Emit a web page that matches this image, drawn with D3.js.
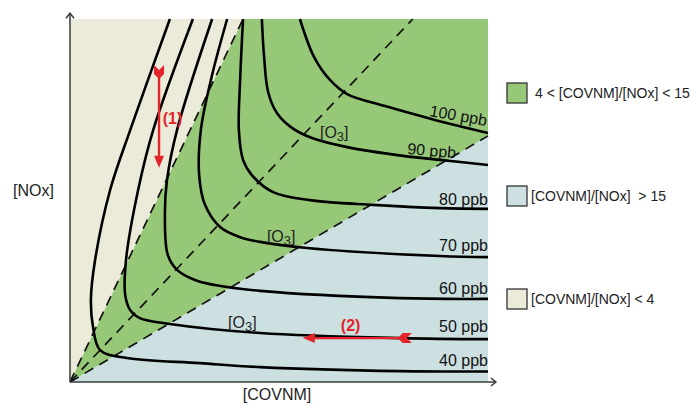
<!DOCTYPE html>
<html><head><meta charset="utf-8">
<script src="https://cdn.jsdelivr.net/npm/d3@7"></script>
<style>
html,body{margin:0;padding:0;background:#fff;}
svg text{font-family:"Liberation Sans",Arial,Helvetica,sans-serif;white-space:pre;}
</style></head>
<body>
<svg id="chart" width="691" height="406"></svg>
<script>
// ---- data (normalised units: [COVNM] 0-100, [NOx] 0-100) ----
const isoLevels = ["40 ppb","50 ppb","60 ppb","70 ppb","80 ppb","90 ppb","100 ppb"];
const iso40  = [[23.9,100],[14.4,69.4],[9.6,52.9],[6.0,33.6],[5.0,22.6],[5.5,15.2],[7.2,8.8],[13.6,6.6],[31.1,5.2],[45.5,4.1],[78.9,3.0],[100,2.9]];
const iso50  = [[29.4,100],[19.9,69.4],[16.3,52.9],[13.4,33.6],[13.2,24.0],[14.4,19.8],[16.7,17.6],[23.9,16.0],[45.5,13.5],[78.9,12.1],[100,11.8]];
const iso60  = [[34.0,100],[25.6,69.4],[23.2,55.6],[22.7,46.0],[23.4,35.0],[25.6,30.9],[29.9,28.1],[34.7,26.7],[45.5,25.1],[78.9,23.1],[100,22.9]];
const iso70  = [[37.6,100],[34.0,84.6],[31.3,69.4],[30.9,57.0],[32.3,48.8],[35.9,42.7],[40.7,39.9],[45.5,38.6],[56.7,36.9],[88.5,34.7],[100,34.4]];
const iso80  = [[41.4,100],[40.7,83.2],[40.4,69.4],[41.4,61.2],[43.5,57.0],[48.6,52.3],[57.4,50.1],[72.5,48.8],[88.5,47.9],[100,47.7]];
const iso90  = [[45.9,100],[46.4,90.1],[47.4,79.9],[49.5,74.1],[53.1,70.0],[57.9,67.2],[66.3,64.7],[79.7,62.3],[88.5,61.2],[100,59.8]];
const iso100 = [[55.0,100],[58.4,89.5],[62.2,83.2],[66.3,79.3],[75.4,76.0],[87.3,72.2],[100,68.6]];
const isoCurves = [iso40, iso50, iso60, iso70, iso80, iso90, iso100];
// label anchor [x, y, rotation, anchor]
const isoLabelPos = [[100,4.4,0,"end"],[100,13.8,0,"end"],[100,24.2,0,"end"],[100,36.1,0,"end"],[100,48.8,0,"end"],[80.6,62.8,5,"start"],[85.9,73.3,10,"start"]];
// regime boundaries (ratio lines from origin)
const ratioLow  = [[0,0],[41.4,100]];   // ratio = 4
const ratioMid  = [[0,0],[82.0,100]];
const ratioHigh = [[0,0],[100,67.8]];   // ratio = 15
const o3Labels = [[59.8,67.2],[47.1,38.6],[37.8,14.9]];
const arrow1 = {x:21.3, from:86.8, to:59.0, label:"(1)", lx:22.2, ly:71.1};
const arrow2 = {y:12.1, from:81.3, to:55.7, label:"(2)", lx:64.8, ly:14.0};
const legendItems = ["4 < [COVNM]/[NOx] < 15","[COVNM]/[NOx]  > 15","[COVNM]/[NOx] < 4"];
const colGreen = "#96c878", colBlue = "#cce0e2", colBeige = "#ecebd9";
const legendColors = [colGreen, colBlue, colBeige];

const svg = d3.select("#chart");
const x = d3.scaleLinear().domain([0,100]).range([70,488]);
const y = d3.scaleLinear().domain([0,100]).range([382,19]);
const poly = pts => "M" + pts.map(p => x(p[0]) + "," + y(p[1])).join("L") + "Z";

// regions
svg.append("path").attr("d", poly([[0,0],[ratioHigh[1][0],ratioHigh[1][1]],[100,0]])).attr("fill", colBlue);
svg.append("path").attr("d", poly([[0,0],ratioLow[1],[100,100],ratioHigh[1]])).attr("fill", colGreen);
svg.append("path").attr("d", poly([[0,0],[0,100],ratioLow[1]])).attr("fill", colBeige);

// dashed ratio lines
const line = d3.line().x(d => x(d[0])).y(d => y(d[1]));
[ratioLow, ratioMid, ratioHigh].forEach(l => {
  svg.append("path").attr("d", line(l)).attr("fill","none").attr("stroke","#111")
    .attr("stroke-width",1.7).attr("stroke-dasharray","10,7");
});

// isopleths
const curve = d3.line().x(d => x(d[0])).y(d => y(d[1])).curve(d3.curveCatmullRom.alpha(0.5));
isoCurves.forEach(c => {
  svg.append("path").attr("d", curve(c)).attr("fill","none").attr("stroke","#000").attr("stroke-width",2.6);
});
isoLevels.forEach((t,i) => {
  const p = isoLabelPos[i];
  svg.append("text").attr("transform", `translate(${x(p[0])},${y(p[1])}) rotate(${p[2]})`)
    .attr("text-anchor", p[3]).attr("font-size",16).attr("fill","#111").text(t);
});
o3Labels.forEach(p => {
  const t = svg.append("text").attr("x", x(p[0])).attr("y", y(p[1])).attr("font-size",16).attr("fill","#222");
  t.append("tspan").text("[O");
  t.append("tspan").attr("font-size",13).attr("dy",3).text("3");
  t.append("tspan").attr("dy",-3).text("]");
});

// red arrows
const red = "#e3242b";
function fletchV(cx, cy){ // downward arrow tail at top
  return `M${cx-5},${cy-2}L${cx},${cy+3}L${cx+5},${cy-2}L${cx+5},${cy+7}L${cx},${cy+12}L${cx-5},${cy+7}Z`;
}
{
  const ax = x(arrow1.x), y0 = y(arrow1.from), y1 = y(arrow1.to);
  svg.append("line").attr("x1",ax).attr("x2",ax).attr("y1",y0+4).attr("y2",y1-10).attr("stroke",red).attr("stroke-width",2.4);
  svg.append("path").attr("d", fletchV(ax, y0)).attr("fill", red);
  svg.append("path").attr("d", `M${ax-5},${y1-12}L${ax+5},${y1-12}L${ax},${y1}Z`).attr("fill", red);
  svg.append("text").attr("x", x(arrow1.lx)).attr("y", y(arrow1.ly)).attr("font-size",16).attr("font-weight","bold").attr("fill",red).text(arrow1.label);
}
{
  const ay = y(arrow2.y), x0 = x(arrow2.from), x1 = x(arrow2.to);
  svg.append("line").attr("x1",x0-4).attr("x2",x1+10).attr("y1",ay).attr("y2",ay).attr("stroke",red).attr("stroke-width",2.4);
  svg.append("path").attr("d", `M${x0+2},${ay-5}L${x0-3},${ay}L${x0+2},${ay+5}L${x0-7},${ay+5}L${x0-12},${ay}L${x0-7},${ay-5}Z`).attr("fill", red);
  svg.append("path").attr("d", `M${x1+12},${ay-5}L${x1+12},${ay+5}L${x1},${ay}Z`).attr("fill", red);
  svg.append("text").attr("x", x(arrow2.lx)).attr("y", y(arrow2.ly)).attr("font-size",16).attr("font-weight","bold").attr("fill",red).text(arrow2.label);
}

// axes
const axCol = "#3a3a3a";
svg.append("line").attr("x1",x(0)).attr("x2",x(0)).attr("y1",y(0)).attr("y2",y(101.6)).attr("stroke",axCol).attr("stroke-width",1.5);
svg.append("path").attr("d",`M${x(0)-4},${y(101.6)+5}L${x(0)},${y(101.6)}L${x(0)+4},${y(101.6)+5}`).attr("fill","none").attr("stroke",axCol).attr("stroke-width",1.5);
svg.append("line").attr("x1",x(0)).attr("x2",x(101.9)).attr("y1",y(0)).attr("y2",y(0)).attr("stroke",axCol).attr("stroke-width",1.5);
svg.append("path").attr("d",`M${x(101.9)-5},${y(0)-4}L${x(101.9)},${y(0)}L${x(101.9)-5},${y(0)+4}`).attr("fill","none").attr("stroke",axCol).attr("stroke-width",1.5);
svg.append("text").attr("x",13).attr("y",196).attr("font-size",16).attr("fill","#222").text("[NOx]");
svg.append("text").attr("x",277).attr("y",400).attr("text-anchor","middle").attr("font-size",16).attr("fill","#222").text("[COVNM]");

// legend
const legY = [93, 196, 299];
legendItems.forEach((t,i) => {
  svg.append("rect").attr("x",507).attr("y",legY[i]-10).attr("width",20).attr("height",20)
    .attr("fill",legendColors[i]).attr("stroke","#333").attr("stroke-width",1.3);
  svg.append("text").attr("x", i===0 ? 535 : 531).attr("y", legY[i]+5).attr("font-size",14).attr("fill","#222").text(t);
});
</script>
</body></html>
